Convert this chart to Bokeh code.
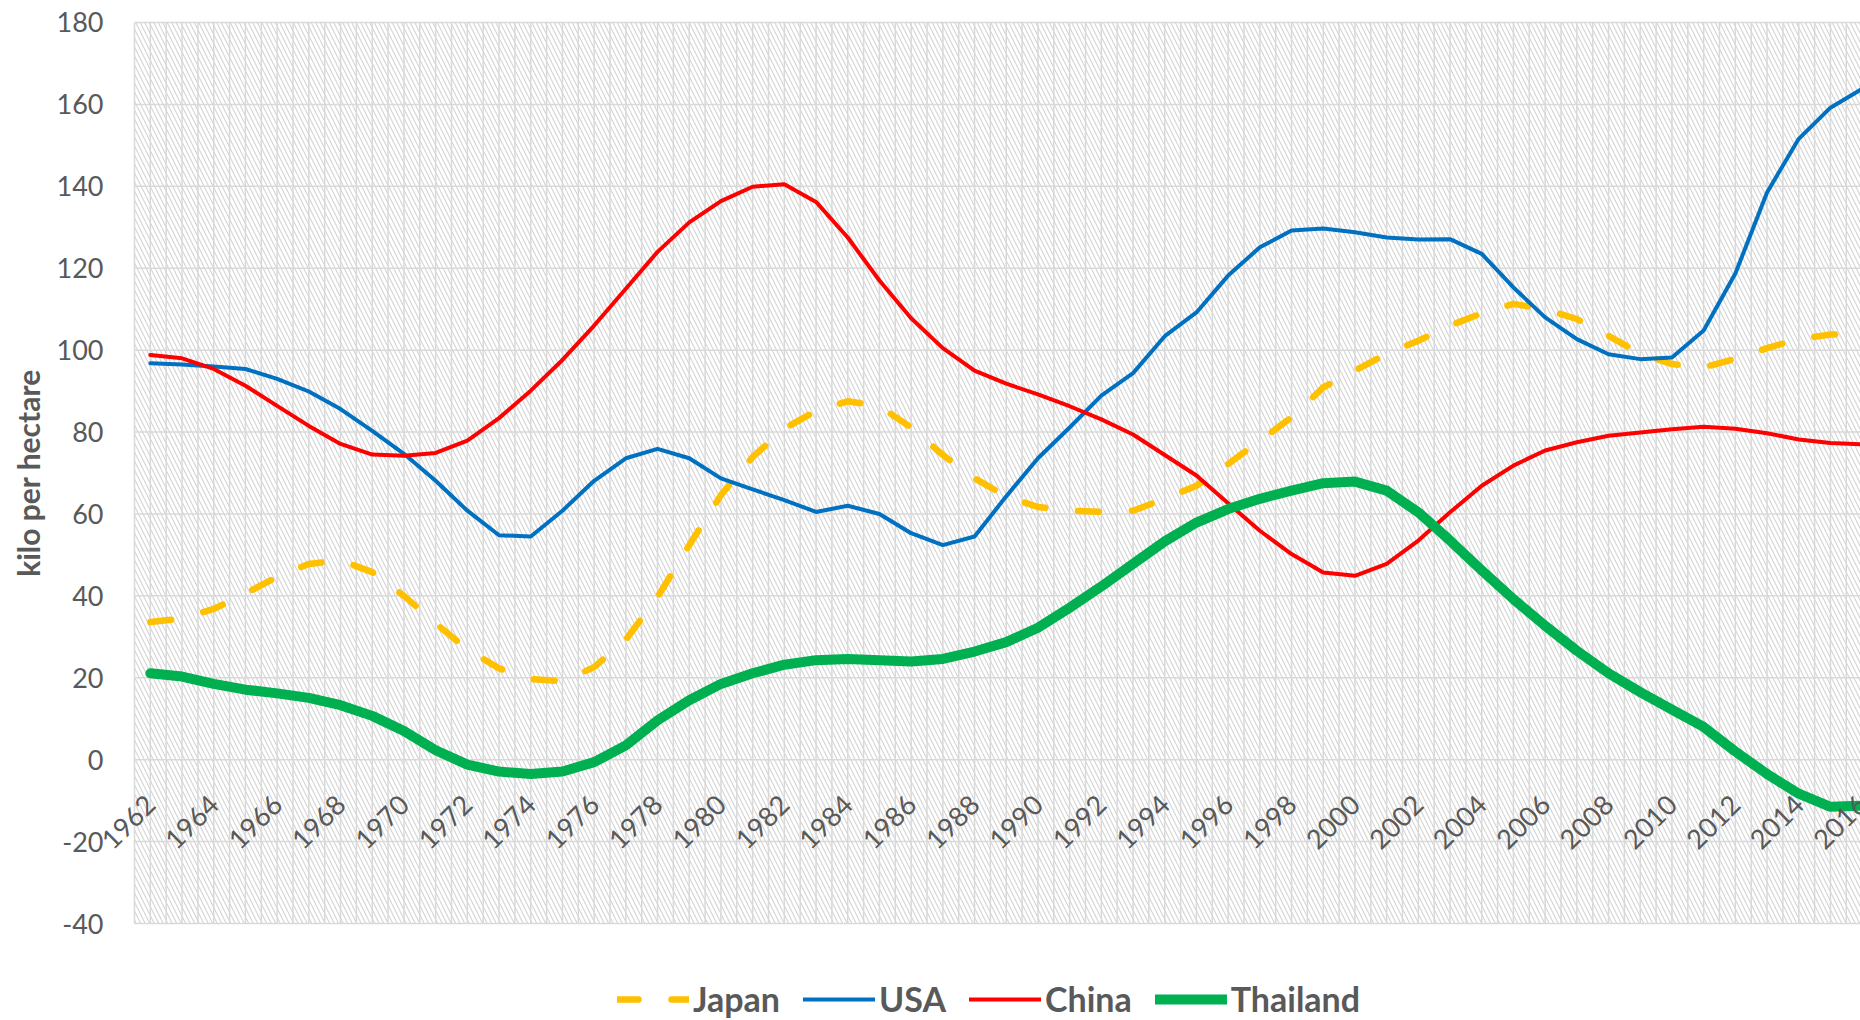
from math import pi
from bokeh.plotting import figure
from bokeh.models import (Range1d, BoxAnnotation, Legend, LegendItem,
                          LabelSet, Label, ColumnDataSource)
from bokeh.core.properties import value
from bokeh.embed import file_html
from bokeh.resources import INLINE

years = list(range(1962, 2017))

japan = [33.6, 34.5, 36.8, 40.6, 44.6, 47.8, 48.7, 45.8, 40.0, 33.3,
         26.9, 22.3, 19.7, 19.1, 22.6, 29.3, 39.7, 52.4, 64.6, 73.9,
         80.8, 85.2, 87.5, 86.3, 81.1, 74.4, 68.7, 64.3, 61.7, 60.8,
         60.5, 60.8, 63.7, 66.9, 72.2, 77.9, 83.6, 90.9, 95.0, 99.1,
         102.3, 106.0, 109.0, 111.3, 110.0, 107.6, 103.5, 99.1, 96.6, 95.8,
         97.9, 100.5, 102.7, 103.8, 104.0]

usa = [96.8, 96.5, 96.0, 95.4, 93.0, 89.9, 85.6, 80.3, 74.7, 68.1,
       60.8, 54.8, 54.5, 60.8, 68.1, 73.6, 75.9, 73.6, 68.7, 66.0,
       63.4, 60.5, 62.0, 60.0, 55.3, 52.4, 54.5, 64.3, 73.6, 81.1,
       88.9, 94.4, 103.4, 109.2, 118.2, 125.1, 129.2, 129.7, 128.8, 127.5,
       127.0, 127.1, 123.5, 115.3, 108.0, 102.7, 99.0, 97.8, 98.2, 104.8,
       118.7, 138.5, 151.6, 159.2, 163.8]

china = [98.8, 98.0, 95.4, 91.3, 86.4, 81.5, 77.1, 74.5, 74.2, 74.9,
         77.9, 83.4, 90.1, 97.6, 106.0, 115.0, 124.0, 131.2, 136.4, 139.9,
         140.5, 136.2, 127.5, 117.0, 107.8, 100.5, 95.0, 91.8, 89.2, 86.3,
         83.1, 79.4, 74.4, 69.4, 62.6, 55.9, 50.2, 45.7, 44.9, 47.8,
         53.5, 60.4, 66.9, 71.8, 75.5, 77.5, 79.1, 79.9, 80.7, 81.3,
         80.8, 79.7, 78.2, 77.3, 77.0]

thailand = [21.1, 20.3, 18.5, 17.1, 16.2, 15.1, 13.3, 10.7, 7.0, 2.3,
            -1.2, -2.9, -3.5, -2.9, -0.6, 3.5, 9.6, 14.5, 18.5, 21.1,
            23.2, 24.3, 24.6, 24.3, 24.0, 24.6, 26.4, 28.7, 32.2, 37.1,
            42.3, 47.8, 53.3, 57.9, 61.2, 63.7, 65.7, 67.5, 67.9, 65.7,
            60.4, 53.5, 46.2, 39.2, 32.7, 26.6, 21.1, 16.5, 12.2, 8.0,
            2.0, -3.5, -8.3, -11.5, -11.2]

label_years = years[::2]
y_ticks = [-40, -20, 0, 20, 40, 60, 80, 100, 120, 140, 160, 180]
y_tick_labels = [str(t) for t in y_ticks]

# plot-area bounds (data units)
X0, X1 = 1961.5, 2016.0
Y_MIN, Y_MAX = -40, 180
# whole canvas ranges (room on the left for tick labels, below for legend)
XS, XE = 1957.273, 2015.948
YB, YT = -63.68, 185.37

GREY = "#595959"
GRID = "#d9d9d9"

p = figure(width=1860, height=1020,
           x_range=Range1d(XS, XE), y_range=Range1d(YB, YT),
           output_backend="svg", toolbar_location=None,
           x_axis_location=None, y_axis_location=None,
           min_border_left=0, min_border_right=0,
           min_border_top=0, min_border_bottom=0)
p.outline_line_color = None
p.background_fill_color = "white"
p.border_fill_color = "white"
p.grid.visible = False

# hatched plot area
p.add_layout(BoxAnnotation(left=X0, right=X1, bottom=Y_MIN, top=Y_MAX,
                           fill_alpha=0, line_color=None,
                           hatch_pattern="\\", hatch_color="#d6d6d6",
                           hatch_scale=9, hatch_weight=1.2, level="image"))

# grid lines
vx = [y + d for y in [years[0] - 1] + years for d in (0.5, 1.0)]
p.segment(x0=vx, y0=Y_MIN, x1=vx, y1=Y_MAX, line_color=GRID,
          line_width=1.5, level="underlay")
p.segment(x0=X0, y0=y_ticks, x1=X1, y1=y_ticks, line_color=GRID,
          line_width=1.5, level="underlay")

# y tick labels
ysrc = ColumnDataSource(dict(x=[X0] * len(y_ticks), y=y_ticks, text=y_tick_labels))
p.add_layout(LabelSet(x="x", y="y", text="text", source=ysrc,
                      text_align="right", text_baseline="middle", x_offset=-31,
                      text_font=value("Lato"), text_font_size=value("27px"),
                      text_color=GREY))

# y axis title
p.add_layout(Label(x=X0 - 3.36, y=(Y_MIN + Y_MAX) / 2, text="kilo per hectare",
                   angle=pi / 2, text_align="center", text_baseline="middle",
                   text_font="Lato", text_font_style="bold",
                   text_font_size="30px", text_color=GREY))

# series
r_j = p.line(years, japan, line_color="#FFC000", line_width=6.5,
             line_dash="21 33", line_cap="round", line_join="round")
r_u = p.line(years, usa, line_color="#0070C0", line_width=4,
             line_cap="round", line_join="round")
r_c = p.line(years, china, line_color="#FF0000", line_width=4,
             line_cap="round", line_join="round")
r_t = p.line(years, thailand, line_color="#00B050", line_width=10,
             line_cap="round", line_join="round")

# category labels at y = 0, rotated
src = ColumnDataSource(dict(x=label_years, y=[0] * len(label_years),
                            text=[str(v) for v in label_years]))
p.add_layout(LabelSet(x="x", y="y", text="text", source=src, angle=pi / 4,
                      text_align="right", text_baseline="middle", y_offset=-40,
                      text_font=value("Lato"), text_font_size=value("27px"),
                      text_color=GREY))

legend = Legend(items=[LegendItem(label="Japan", renderers=[r_j]),
                       LegendItem(label="USA", renderers=[r_u]),
                       LegendItem(label="China", renderers=[r_c]),
                       LegendItem(label="Thailand", renderers=[r_t])],
                location=(617, 1), orientation="horizontal",
                margin=0, padding=0, spacing=23, label_standoff=4,
                glyph_width=72, glyph_height=20, label_height=20,
                label_text_font="Lato", label_text_font_style="bold",
                label_text_font_size="34px", label_text_color=GREY,
                background_fill_alpha=0, border_line_color=None)
p.add_layout(legend)

open("out.html", "w").write(file_html(p, INLINE))
